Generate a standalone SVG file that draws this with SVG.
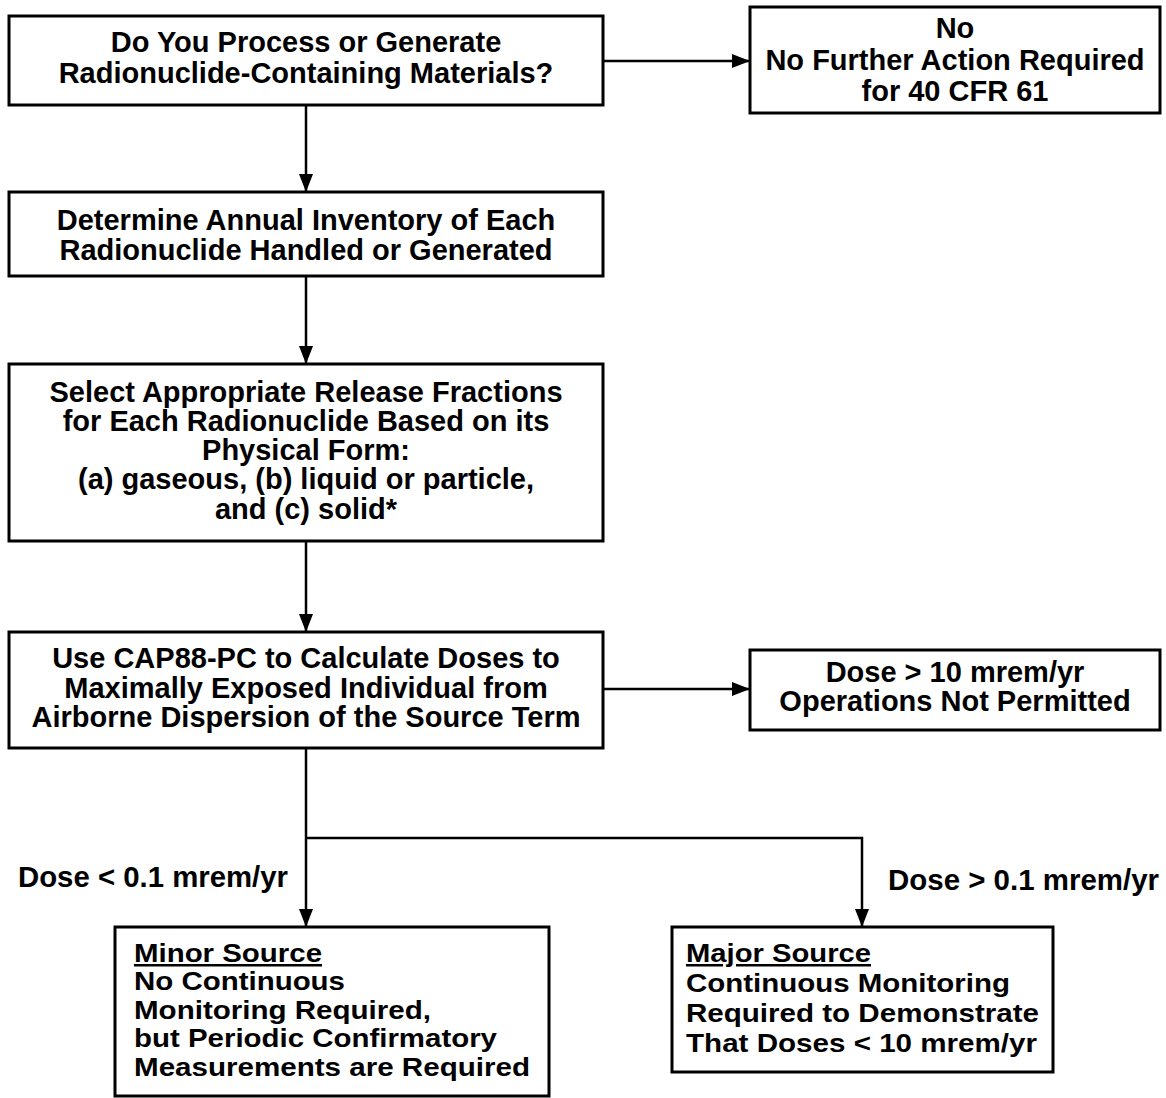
<svg xmlns="http://www.w3.org/2000/svg" width="1166" height="1098" viewBox="0 0 1166 1098">
<style>
  .box { fill: #fff; stroke: #000; stroke-width: 3; }
  .t { font-family: "Liberation Sans", Arial, sans-serif; font-weight: bold; font-size: 29px; fill: #000; }
  .s { font-size: 25px; }
  .c { text-anchor: middle; }
  .wire { fill: none; stroke: #000; stroke-width: 2.5; }
  .u { text-decoration: underline; }
</style>
<defs>
  <marker id="arr" viewBox="0 0 18 14" refX="18" refY="7" markerWidth="18" markerHeight="14" markerUnits="userSpaceOnUse" orient="auto">
    <path d="M0,0 L18,7 L0,14 Z" fill="#000"/>
  </marker>
</defs>
<rect width="1166" height="1098" fill="#fff"/>
<g id="connectors">
  <line class="wire" x1="603" y1="61" x2="750" y2="61" marker-end="url(#arr)"/>
  <line class="wire" x1="306" y1="105" x2="306" y2="192" marker-end="url(#arr)"/>
  <line class="wire" x1="306" y1="276" x2="306" y2="364" marker-end="url(#arr)"/>
  <line class="wire" x1="306" y1="541" x2="306" y2="632" marker-end="url(#arr)"/>
  <line class="wire" x1="603" y1="689" x2="750" y2="689" marker-end="url(#arr)"/>
  <line class="wire" x1="306" y1="748" x2="306" y2="927" marker-end="url(#arr)"/>
  <polyline class="wire" points="306,838 862,838 862,927" marker-end="url(#arr)"/>
  <text class="t" x="18" y="887" textLength="270" lengthAdjust="spacingAndGlyphs">Dose &lt; 0.1 mrem/yr</text>
  <text class="t" x="888" y="890" textLength="271" lengthAdjust="spacingAndGlyphs">Dose &gt; 0.1 mrem/yr</text>
</g>
<g id="n1">
  <rect class="box" x="9" y="16" width="594" height="89"/>
  <text class="t c" x="306" y="52">Do You Process or Generate</text>
  <text class="t c" x="306" y="83">Radionuclide-Containing Materials?</text>
</g>
<g id="n2">
  <rect class="box" x="750" y="7" width="410" height="106"/>
  <text class="t c" x="955" y="38">No</text>
  <text class="t c" x="955" y="70">No Further Action Required</text>
  <text class="t c" x="955" y="101">for 40 CFR 61</text>
</g>
<g id="n3">
  <rect class="box" x="9" y="192" width="594" height="84"/>
  <text class="t c" x="306" y="230">Determine Annual Inventory of Each</text>
  <text class="t c" x="306" y="260">Radionuclide Handled or Generated</text>
</g>
<g id="n4">
  <rect class="box" x="9" y="364" width="594" height="177"/>
  <text class="t c" x="306" y="402">Select Appropriate Release Fractions</text>
  <text class="t c" x="306" y="431">for Each Radionuclide Based on its</text>
  <text class="t c" x="306" y="460">Physical Form:</text>
  <text class="t c" x="306" y="489">(a) gaseous, (b) liquid or particle,</text>
  <text class="t c" x="306" y="519">and (c) solid*</text>
</g>
<g id="n5">
  <rect class="box" x="9" y="632" width="594" height="116"/>
  <text class="t c" x="306" y="668">Use CAP88-PC to Calculate Doses to</text>
  <text class="t c" x="306" y="698">Maximally Exposed Individual from</text>
  <text class="t c" x="306" y="727">Airborne Dispersion of the Source Term</text>
</g>
<g id="n6">
  <rect class="box" x="750" y="650" width="410" height="80"/>
  <text class="t c" x="955" y="682">Dose &gt; 10 mrem/yr</text>
  <text class="t c" x="955" y="711">Operations Not Permitted</text>
</g>
<g id="n7">
  <rect class="box" x="115" y="927" width="434" height="169"/>
  <text class="t s u" x="134" y="962" textLength="188" lengthAdjust="spacingAndGlyphs">Minor Source</text>
  <text class="t s" x="134" y="990" textLength="211" lengthAdjust="spacingAndGlyphs">No Continuous</text>
  <text class="t s" x="134" y="1019" textLength="297" lengthAdjust="spacingAndGlyphs">Monitoring Required,</text>
  <text class="t s" x="134" y="1047" textLength="363" lengthAdjust="spacingAndGlyphs">but Periodic Confirmatory</text>
  <text class="t s" x="134" y="1076" textLength="396" lengthAdjust="spacingAndGlyphs">Measurements are Required</text>
</g>
<g id="n8">
  <rect class="box" x="672" y="927" width="381" height="145"/>
  <text class="t s u" x="686" y="962" textLength="185" lengthAdjust="spacingAndGlyphs">Major Source</text>
  <text class="t s" x="686" y="992" textLength="324" lengthAdjust="spacingAndGlyphs">Continuous Monitoring</text>
  <text class="t s" x="686" y="1022" textLength="353" lengthAdjust="spacingAndGlyphs">Required to Demonstrate</text>
  <text class="t s" x="686" y="1052" textLength="351" lengthAdjust="spacingAndGlyphs">That Doses &lt; 10 mrem/yr</text>
</g>
</svg>
